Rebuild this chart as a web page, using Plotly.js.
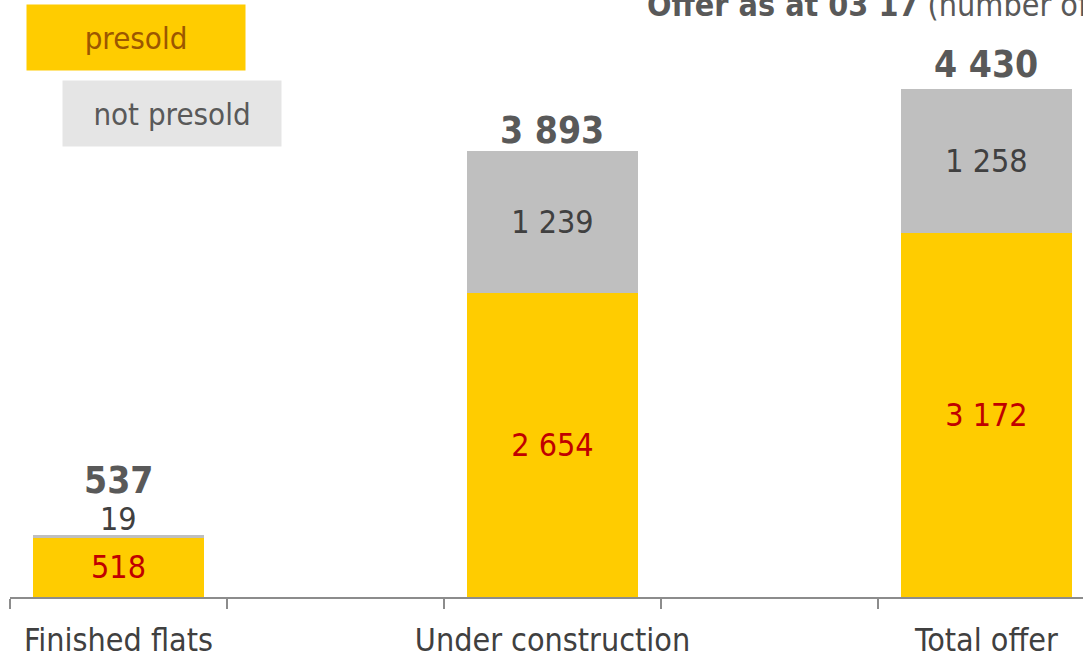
<!DOCTYPE html>
<html>
<head>
<meta charset="utf-8">
<script src="https://cdn.plot.ly/plotly-3.0.1.min.js"></script>
<style>html,body{margin:0;padding:0;background:#fff;}#chart{width:1083px;height:659px;}</style>
</head>
<body>
<div id="chart"></div>
<script>
// Data
const categories = ["Finished flats", " ", "Under construction", "  ", "Total offer"];
const presold = [518, null, 2654, null, 3172];
const notPresold = [19, null, 1239, null, 1258];
const totals = [537, null, 3893, null, 4430];
const seriesNames = ["presold", "not presold"];
const titleBold = "Offer as at 03 17";
const titleRest = " (number of flats)";

const FONT = "DejaVu Sans Condensed, DejaVu Sans, sans-serif";
const fmt = v => (v === null ? "" : String(v).replace(/\B(?=(\d{3})+(?!\d))/g, " "));
const isSmall = v => v !== null && v < 100;

const tracePresold = {
  type: "bar", x: categories, y: presold, name: seriesNames[0],
  marker: {color: "#FFCC00"},
  text: presold.map(fmt), textposition: "inside", insidetextanchor: "middle",
  textangle: 0, constraintext: "none",
  textfont: {family: FONT, size: 32, color: "#C00000"},
  hoverinfo: "none"
};
const traceNot = {
  type: "bar", x: categories, y: notPresold, name: seriesNames[1],
  marker: {color: "#BFBFBF"},
  text: notPresold.map(v => (isSmall(v) ? "" : fmt(v))),
  textposition: "inside",
  insidetextanchor: "middle", textangle: 0, constraintext: "none",
  textfont: {family: FONT, size: 32, color: "#404040"},
  hoverinfo: "none"
};

const annotations = [];
categories.forEach((c, i) => {
  if (totals[i] === null) return;
  const small = isSmall(notPresold[i]);
  if (small) {
    annotations.push({
      x: c, y: totals[i], xref: "x", yref: "y", text: fmt(notPresold[i]),
      showarrow: false, yanchor: "bottom", yshift: -5,
      font: {family: FONT, size: 32, color: "#404040"}
    });
  }
  annotations.push({
    x: c, y: totals[i], xref: "x", yref: "y", text: "<b>" + fmt(totals[i]) + "</b>",
    showarrow: false, yanchor: "bottom", yshift: small ? 31 : (totals[i] > 4000 ? 1 : -3),
    font: {family: FONT, size: 37, color: "#595959"}
  });
});
// legend boxes
annotations.push({
  xref: "paper", yref: "paper", x: (26 - 10) / 1073, y: 1 - 4 / 597, xanchor: "left", yanchor: "top",
  text: seriesNames[0], showarrow: false, bgcolor: "#FFCC00", width: 216, height: 63,
  font: {family: FONT, size: 31, color: "#9C5700"}
});
annotations.push({
  xref: "paper", yref: "paper", x: (62 - 10) / 1073, y: 1 - 80 / 597, xanchor: "left", yanchor: "top",
  text: seriesNames[1], showarrow: false, bgcolor: "#E5E5E5", width: 216, height: 63,
  font: {family: FONT, size: 31, color: "#595959"}
});
// title (cut at the top right as in the source)
annotations.push({
  xref: "paper", yref: "paper", x: (645 - 10) / 1073, y: 1 - 5 / 597, xanchor: "left", yanchor: "middle",
  text: "<b>" + titleBold + "</b>" + titleRest, showarrow: false,
  font: {family: FONT, size: 32, color: "#595959"}
});

const layout = {
  width: 1083, height: 659,
  margin: {l: 10, r: 0, t: 0, b: 62},
  barmode: "stack", bargap: 0.21,
  showlegend: false,
  paper_bgcolor: "#ffffff", plot_bgcolor: "#ffffff",
  xaxis: {
    type: "category", categoryorder: "array", categoryarray: categories,
    range: [-0.5, 4.445], tickson: "boundaries", tickangle: 0,
    showline: true, linecolor: "#8C8C8C", linewidth: 1.5,
    ticks: "outside", ticklen: 10, tickcolor: "#8C8C8C", tickwidth: 1.5,
    ticklabelstandoff: 14,
    showgrid: false, zeroline: false, fixedrange: true,
    tickfont: {family: FONT, size: 32, color: "#404040"}
  },
  yaxis: {
    range: [0, 5206], visible: false, showgrid: false, zeroline: false, fixedrange: true
  },
  annotations: annotations
};

Plotly.newPlot("chart", [tracePresold, traceNot], layout, {displayModeBar: false, staticPlot: true});
</script>
</body>
</html>
